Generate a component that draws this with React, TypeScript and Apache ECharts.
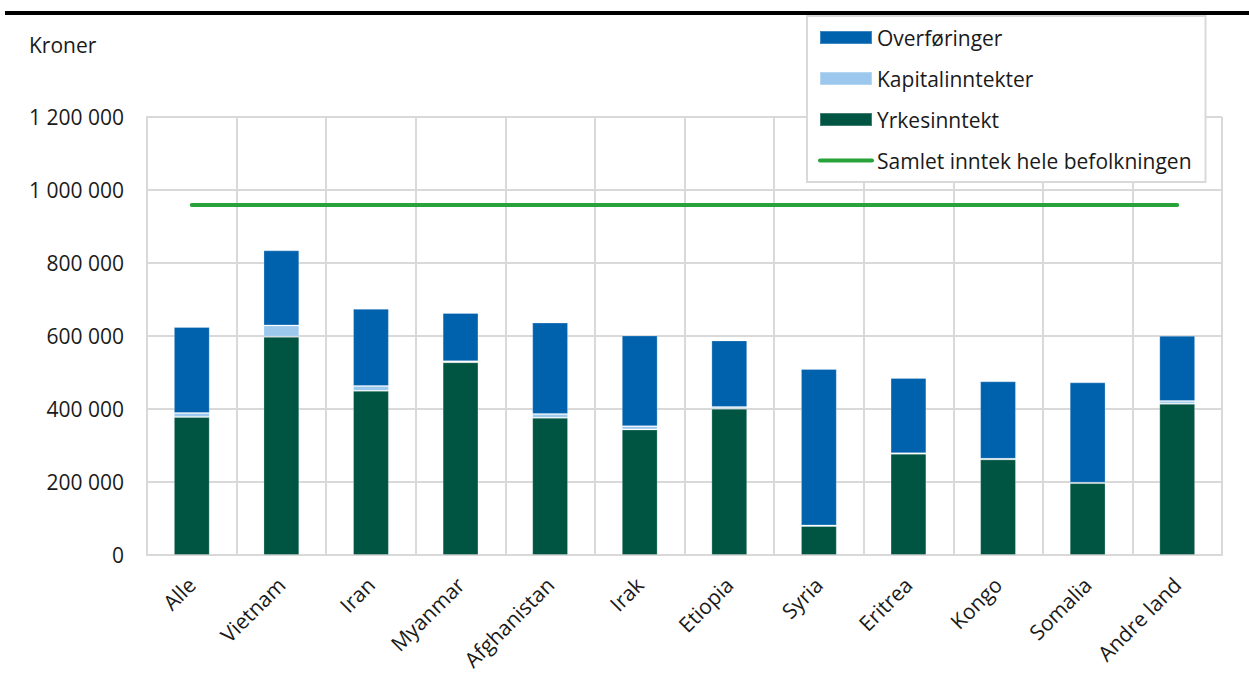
import React, { useEffect, useRef } from "react";
import * as echarts from "echarts";

const categories = ["Alle", "Vietnam", "Iran", "Myanmar", "Afghanistan", "Irak", "Etiopia", "Syria", "Eritrea", "Kongo", "Somalia", "Andre land"];
const yrkesinntekt = [378000, 598000, 450000, 528000, 376000, 344000, 401000, 79500, 277500, 262000, 197000, 414500];
const kapitalinntekter = [11000, 31000, 13000, 3000, 10000, 9000, 4500, 1500, 1500, 1500, 1000, 7500];
const overforinger = [235700, 205700, 211700, 132000, 251000, 248500, 182500, 428600, 206000, 212400, 275000, 178800];
const samletInntekt = [958900, 958900, 958900, 958900, 958900, 958900, 958900, 958900, 958900, 958900, 958900, 958900];
const yTicks = [0, 200000, 400000, 600000, 800000, 1000000, 1200000];

const FONT = "'Open Sans', 'Noto Sans', sans-serif";

function fmt(v: number): string {
  return String(v).replace(/\B(?=(\d{3})+(?!\d))/g, " ");
}

export default function App() {
  const ref = useRef<HTMLDivElement>(null);
  useEffect(() => {
    document.body.style.margin = "0";
    const chart = echarts.init(ref.current!, undefined, { renderer: "svg" });
    const barBorder = { borderColor: "rgba(255,255,255,0.25)", borderWidth: 1 };
    chart.setOption({
      animation: false,
      textStyle: { fontFamily: FONT },
      grid: { left: 147, right: 27, top: 117, bottom: 120, containLabel: false },
      graphic: [
        { type: "rect", left: 5, top: 11, shape: { width: 1244, height: 4 }, style: { fill: "#000" }, silent: true },
        { type: "text", left: 29, top: 34, style: { text: "Kroner", fontSize: 21, fontFamily: FONT, fill: "#1a1a1a" } },
      ],
      legend: {
        orient: "vertical",
        left: 807,
        top: 16,
        padding: [11, 14, 11, 11],
        itemWidth: 52,
        itemHeight: 13,
        itemGap: 20,
        borderColor: "#d9d9d9",
        borderWidth: 2,
        backgroundColor: "#fff",
        textStyle: { fontSize: 21, color: "#1a1a1a", fontFamily: FONT },
        data: [
          { name: "Overføringer", icon: "rect" },
          { name: "Kapitalinntekter", icon: "rect" },
          { name: "Yrkesinntekt", icon: "rect" },
          {
            name: "Samlet inntek hele befolkningen",
            itemStyle: { opacity: 0 },
            lineStyle: { width: 4, cap: "round", color: "#27a33a" },
          },
        ],
      },
      xAxis: {
        type: "category",
        data: categories,
        boundaryGap: true,
        axisLine: { show: true, lineStyle: { color: "#d9d9d9", width: 2 } },
        axisTick: { show: false },
        splitLine: { show: true, lineStyle: { color: "#d9d9d9", width: 2 } },
        axisLabel: { rotate: 45, fontSize: 21, color: "#1a1a1a", margin: 26, fontFamily: FONT, interval: 0 },
      },
      yAxis: {
        type: "value",
        min: yTicks[0],
        max: yTicks[yTicks.length - 1],
        interval: 200000,
        axisLine: { show: true, lineStyle: { color: "#d9d9d9", width: 2 } },
        axisTick: { show: false },
        splitLine: { show: true, lineStyle: { color: "#d9d9d9", width: 2 } },
        axisLabel: { fontSize: 21, color: "#1a1a1a", margin: 23, fontFamily: FONT, formatter: (v: number) => fmt(v) },
      },
      series: [
        {
          name: "Yrkesinntekt",
          type: "bar",
          stack: "t",
          barWidth: "40%",
          data: yrkesinntekt,
          itemStyle: { color: "#005442", ...barBorder },
        },
        {
          name: "Kapitalinntekter",
          type: "bar",
          stack: "t",
          data: kapitalinntekter,
          itemStyle: { color: "#9bc8ec", ...barBorder },
        },
        {
          name: "Overføringer",
          type: "bar",
          stack: "t",
          data: overforinger,
          itemStyle: { color: "#0061ad", ...barBorder },
        },
        {
          name: "Samlet inntek hele befolkningen",
          type: "line",
          data: samletInntekt,
          symbol: "none",
          lineStyle: { color: "#27a33a", width: 4, cap: "round" },
          itemStyle: { color: "#27a33a" },
          z: 5,
        },
      ],
    });
    return () => chart.dispose();
  }, []);
  return <div ref={ref} style={{ position: "absolute", left: 0, top: 0, width: 1249, height: 675 }} />;
}
